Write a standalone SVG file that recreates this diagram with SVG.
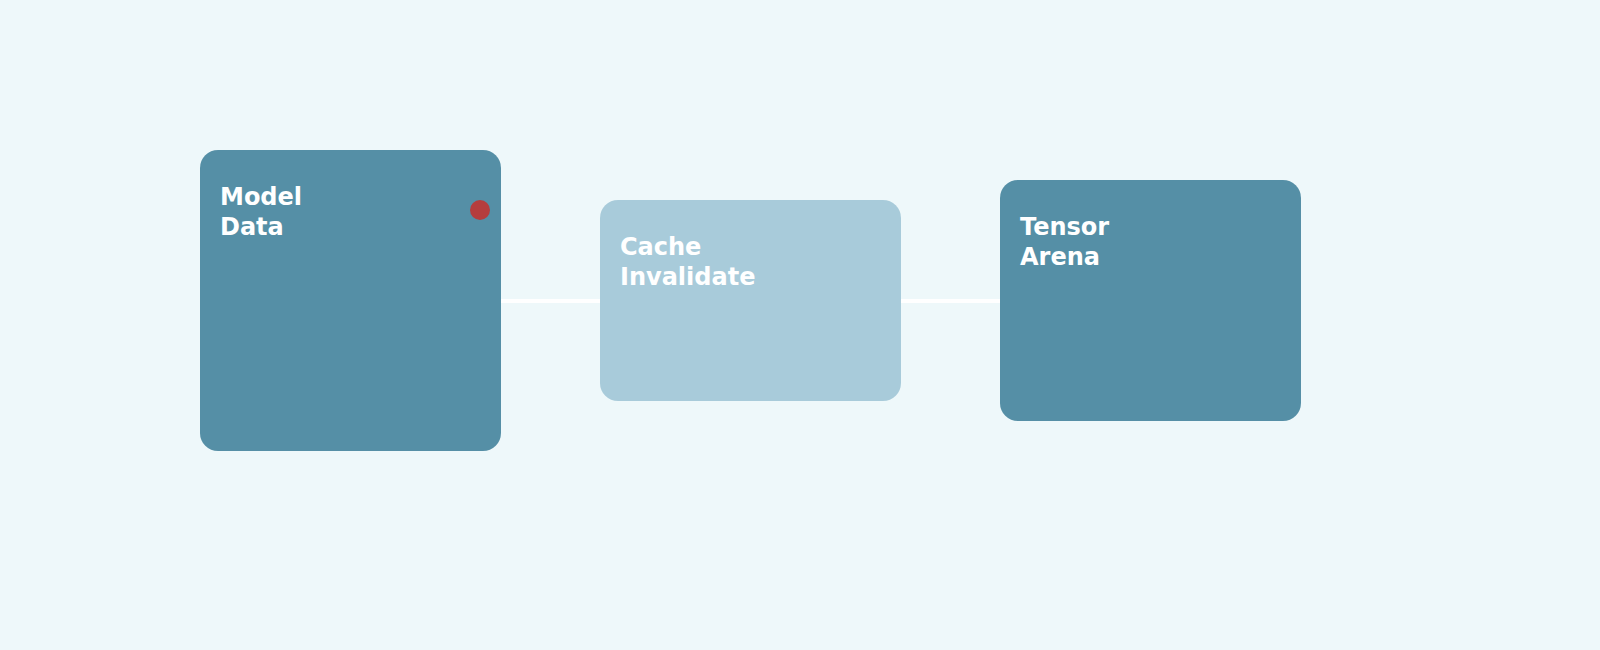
<svg xmlns="http://www.w3.org/2000/svg" width="1600" height="650" viewBox="0 0 1600 650">
<style>
.dark{fill:#558fa6}.light{fill:#a8cbda}
.lbl{font-family:"DejaVu Sans",sans-serif;font-weight:bold;font-size:24px;fill:#fff}
.conn{stroke:#fff;stroke-width:4;fill:none}
</style>
<rect width="1600" height="650" fill="#eef8fa"/>
<g id="connectors">
<line class="conn" x1="500" y1="301" x2="600" y2="301"/>
<line class="conn" x1="900" y1="301" x2="1000" y2="301"/>
</g>
<g id="model-data">
<rect class="dark" x="200" y="150" width="301" height="301" rx="18"/>
<text class="lbl" x="220" y="205">Model</text>
<text class="lbl" x="220" y="235">Data</text>
<circle cx="480" cy="210" r="10" fill="#b53d3d"/>
</g>
<g id="cache-invalidate">
<rect class="light" x="600" y="200" width="301" height="201" rx="18"/>
<text class="lbl" x="620" y="255">Cache</text>
<text class="lbl" x="620" y="285">Invalidate</text>
</g>
<g id="tensor-arena">
<rect class="dark" x="1000" y="180" width="301" height="241" rx="18"/>
<text class="lbl" x="1020" y="235">Tensor</text>
<text class="lbl" x="1020" y="265">Arena</text>
</g>
</svg>
